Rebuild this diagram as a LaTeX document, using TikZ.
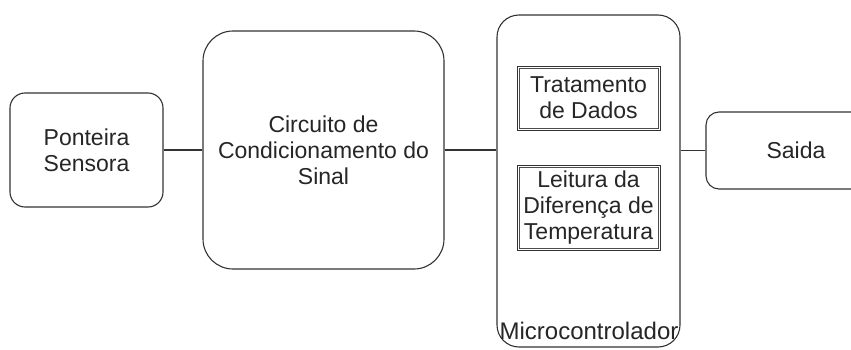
\documentclass[tikz,border=0pt]{standalone}
\usepackage{fontspec}
\setmainfont{Liberation Sans}
\usepackage{tikz}

\begin{document}
\begin{tikzpicture}[x=1pt, y=-1pt]
    \useasboundingbox (0,0) rectangle (851,350);
    \clip (0,0) rectangle (851,350);

    % --- DEFINE STYLES ---
    % Style for the main rounded blocks
    \tikzstyle{block} = [draw=black!80, line width=1.1pt, fill=white, align=center, text=black!85, font=\fontsize{23}{26}\selectfont, inner sep=0pt]
    % Style for the boxes inside the microcontroller
    \tikzstyle{inner_box} = [draw=black!80, line width=0.9pt, fill=white, align=center, text=black!85, font=\fontsize{23}{26}\selectfont, inner sep=0pt, minimum width=143]
    % Style for the second line of the inner boxes
    \tikzstyle{inner_line} = [draw=black!70, line width=0.7pt]
    % Style for the connecting lines
    \tikzstyle{link} = [draw=black!80, line width=1.1pt]

    % Blocks
    \node[block, rounded corners=15, minimum width=153, minimum height=114] (ponteira) at (86.5,150) {Ponteira\\Sensora};
    \node[block, rounded corners=30, minimum width=241, minimum height=238] (circuito) at (323.5,150) {Circuito de\\Condicionamento do\\Sinal};
    \node[block, rounded corners=22, minimum width=183, minimum height=332] (micro) at (588.5,181) {};
    \node[block, rounded corners=13, minimum width=180, minimum height=77] (saida) at (796,150.5) {Saida};

    % Inside the microcontroller
    \node[inner_box, minimum height=64] (tratamento) at (588.5,98) {Tratamento\\de Dados};
    \node[inner_box, minimum height=85] (leitura) at (588.5,207.5) {Leitura da\\Diferen\c{c}a de\\Temperatura};
    \draw[inner_line] ([shift={(2.5,2.5)}]tratamento.north west) rectangle ([shift={(-2.5,-2.5)}]tratamento.south east);
    \draw[inner_line] ([shift={(2.5,2.5)}]leitura.north west) rectangle ([shift={(-2.5,-2.5)}]leitura.south east);
    \node[text=black!85, font=\fontsize{24}{26}\selectfont, inner sep=0pt] (micro_label) at (589,331) {Microcontrolador};

    % Connections
    \draw[link] (ponteira) -- (circuito);
    \draw[link] (circuito) -- (micro.west |- circuito);
    \draw[link] (micro.east |- saida) -- (saida);
\end{tikzpicture}
\end{document}
